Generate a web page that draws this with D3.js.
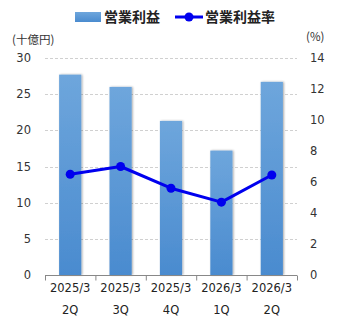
<!DOCTYPE html>
<html><head><meta charset="utf-8">
<script src="https://cdn.jsdelivr.net/npm/d3@7"></script>
<style>body{margin:0;background:#fff}svg{display:block}</style>
</head><body>
<script>
const categoriesTop = ["2025/3","2025/3","2025/3","2026/3","2026/3"];
const categoriesBottom = ["2Q","3Q","4Q","1Q","2Q"];
const profit = [27.7, 26.0, 21.3, 17.2, 26.7];
const margin = [6.5, 7.0, 5.6, 4.7, 6.45];
const leftTicks = [0,5,10,15,20,25,30];
const rightTicks = [0,2,4,6,8,10,12,14];

const W=345,H=330;
const svg=d3.select("body").append("svg").attr("width",W).attr("height",H);
const defs=svg.append("defs");
const g1=defs.append("linearGradient").attr("id","barg").attr("x1",0).attr("y1",0).attr("x2",0).attr("y2",1);
g1.append("stop").attr("offset","0%").attr("stop-color","#6ea6dc");
g1.append("stop").attr("offset","100%").attr("stop-color","#4a8bcf");
const f=defs.append("filter").attr("id","sh").attr("x","-30%").attr("y","-5%").attr("width","160%").attr("height","110%");
f.append("feGaussianBlur").attr("in","SourceAlpha").attr("stdDeviation",1.2).attr("result","b");
f.append("feOffset").attr("in","b").attr("dx",1).attr("dy",0).attr("result","o");
f.append("feComponentTransfer").attr("in","o").attr("result","o2").append("feFuncA").attr("type","linear").attr("slope",0.35);
const fm=f.append("feMerge");fm.append("feMergeNode").attr("in","o2");fm.append("feMergeNode").attr("in","SourceGraphic");

const x0=45,x1=297,yb=275,yt=58;
const idx=d3.range(categoriesTop.length);
const x=d3.scaleBand().domain(idx).range([x0,x1]).paddingInner(0.56).paddingOuter(0.28);
const yL=d3.scaleLinear().domain([0,30]).range([yb,yt]);
const yR=d3.scaleLinear().domain([0,14]).range([yb,yt]);
const font="'DejaVu Sans', Verdana, 'Noto Sans CJK JP', sans-serif";
const jfont="'Noto Sans CJK JP', sans-serif";

// gridlines
svg.append("g").selectAll("line").data(leftTicks.filter(d=>d>0)).join("line")
 .attr("x1",x0).attr("x2",x1).attr("y1",d=>Math.round(yL(d))+0.5).attr("y2",d=>Math.round(yL(d))+0.5)
 .attr("stroke","#d0d0d0").attr("stroke-dasharray","3,2").attr("stroke-width",1);

// left labels
svg.append("g").selectAll("text").data(leftTicks).join("text")
 .attr("x",31).attr("y",d=>yL(d)).attr("dy","0.35em").attr("text-anchor","end")
 .attr("font-family",font).attr("font-size",11.5).attr("fill","#333").text(d=>d);
svg.append("g").selectAll("text").data(rightTicks).join("text")
 .attr("x",310).attr("y",d=>yR(d)).attr("dy","0.35em").attr("text-anchor","start")
 .attr("font-family",font).attr("font-size",11.5).attr("fill","#333").text(d=>d);

// bars
svg.append("g").selectAll("rect").data(profit).join("rect")
 .attr("x",(d,i)=>x(i)).attr("width",x.bandwidth()).attr("y",d=>yL(d)).attr("height",d=>yb-yL(d))
 .attr("fill","url(#barg)").attr("filter","url(#sh)");

// x axis
const axis=d3.axisBottom(d3.scaleLinear().domain([0,5]).range([x0,x1])).ticks(5).tickSize(5).tickFormat("");
const ax=svg.append("g").attr("transform",`translate(0,${yb+0.5})`).call(axis);
ax.select(".domain").attr("stroke","#888").attr("d",`M${x0},0H${x1}`);
ax.selectAll(".tick line").attr("stroke","#888");

svg.append("g").selectAll("text").data(categoriesTop).join("text")
 .attr("x",(d,i)=>x(i)+x.bandwidth()/2).attr("y",292).attr("text-anchor","middle")
 .attr("font-family",font).attr("font-size",11.5).attr("fill","#222").text(d=>d);
svg.append("g").selectAll("text").data(categoriesBottom).join("text")
 .attr("x",(d,i)=>x(i)+x.bandwidth()/2).attr("y",314).attr("text-anchor","middle")
 .attr("font-family",font).attr("font-size",11.5).attr("fill","#222").text(d=>d);

// line
const line=d3.line().x((d,i)=>x(i)+x.bandwidth()/2).y(d=>yR(d));
svg.append("path").datum(margin).attr("d",line).attr("fill","none").attr("stroke","#0000ee").attr("stroke-width",3).attr("stroke-linejoin","round");
svg.append("g").selectAll("circle").data(margin).join("circle")
 .attr("cx",(d,i)=>x(i)+x.bandwidth()/2).attr("cy",d=>yR(d)).attr("r",4.5).attr("fill","#0000ee");

// unit labels
svg.append("text").attr("x",12).attr("y",44).attr("font-family",jfont).attr("font-size",11.5).attr("fill","#333").text("(十億円)");
svg.append("text").attr("x",306).attr("y",41).attr("font-family",jfont).attr("font-size",11.5).attr("fill","#333").text("(%)");

// legend
svg.append("rect").attr("x",75).attr("y",12).attr("width",26).attr("height",10).attr("fill","url(#barg)");
svg.append("text").attr("x",104).attr("y",22).attr("font-family",jfont).attr("font-weight","bold").attr("font-size",14).attr("fill","#222").text("営業利益");
svg.append("line").attr("x1",175).attr("x2",203).attr("y1",17).attr("y2",17).attr("stroke","#0000ee").attr("stroke-width",3);
svg.append("circle").attr("cx",189).attr("cy",17).attr("r",4.5).attr("fill","#0000ee");
svg.append("text").attr("x",205).attr("y",22).attr("font-family",jfont).attr("font-weight","bold").attr("font-size",14).attr("fill","#222").text("営業利益率");
</script>
</body></html>
